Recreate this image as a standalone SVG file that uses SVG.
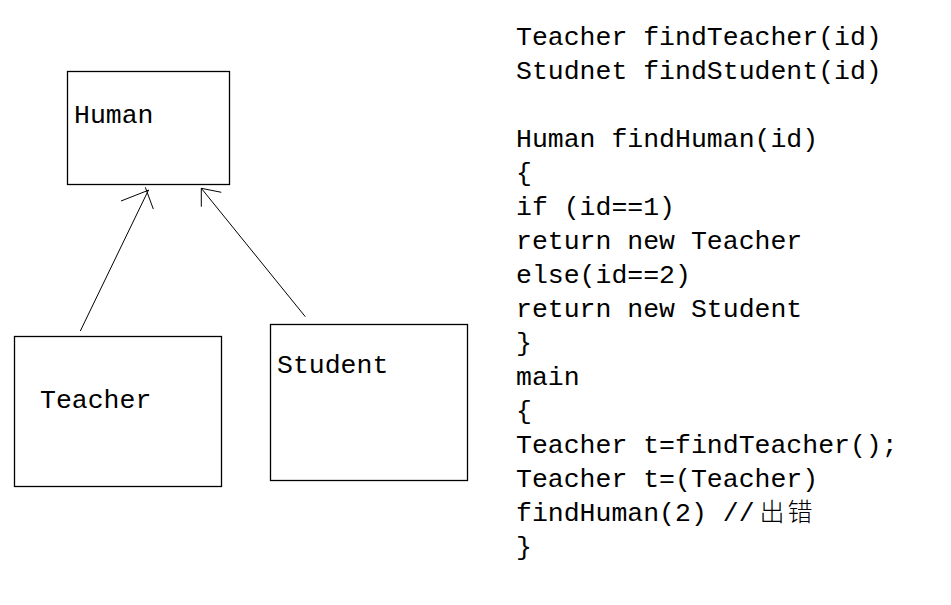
<svg xmlns="http://www.w3.org/2000/svg" width="951" height="605" viewBox="0 0 951 605">
<style>
.box{fill:#fff;stroke:#000;stroke-width:1.3}
.lbl{font-family:"Liberation Mono","DejaVu Sans Mono",monospace;font-size:26.5px;fill:#000}
.code{font-family:"Liberation Mono","DejaVu Sans Mono","Noto Sans CJK SC",monospace;font-size:26.5px;fill:#000}
.cjk{font-family:"Noto Sans CJK SC",sans-serif;font-size:25px;font-weight:300;letter-spacing:3px}
.ln{fill:none;stroke:#000;stroke-width:1}
</style>
<rect width="951" height="605" fill="#fff"/>
<g id="human"><rect class="box" x="67.5" y="71.5" width="162" height="113"/><text class="lbl" x="74" y="123">Human</text></g>
<g id="teacher"><rect class="box" x="14.5" y="336.5" width="207" height="150"/><text class="lbl" x="40" y="407.5">Teacher</text></g>
<g id="student"><rect class="box" x="270.5" y="324.5" width="197" height="156"/><text class="lbl" x="277" y="373">Student</text></g>
<g id="connectors">
<path class="ln" d="M80.3,331 L148.5,190 M121,201 L149,190 M153.3,209 L145.3,187.3"/>
<path class="ln" d="M305.3,316.7 L201.3,188.3 M201.3,206.7 L201.3,188.3 L221.3,192.3"/>
</g>
<g id="code">
<text class="code" x="516" y="44.5">Teacher findTeacher(id)</text>
<text class="code" x="516" y="78.5">Studnet findStudent(id)</text>
<text class="code" x="516" y="146.5">Human findHuman(id)</text>
<text class="code" x="516" y="180.5">{</text>
<text class="code" x="516" y="214.5">if (id==1)</text>
<text class="code" x="516" y="248.5">return new Teacher</text>
<text class="code" x="516" y="282.5">else(id==2)</text>
<text class="code" x="516" y="316.5">return new Student</text>
<text class="code" x="516" y="350.5">}</text>
<text class="code" x="516" y="384.5">main</text>
<text class="code" x="516" y="418.5">{</text>
<text class="code" x="516" y="452.5">Teacher t=findTeacher();</text>
<text class="code" x="516" y="486.5">Teacher t=(Teacher)</text>
<text class="code" x="516" y="520.5">findHuman(2) //<tspan class="cjk" dx="5">出错</tspan></text>
<text class="code" x="516" y="554.5">}</text>
</g>
</svg>
